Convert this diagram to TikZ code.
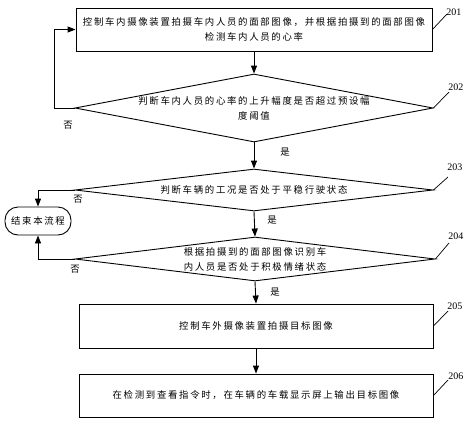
\documentclass[tikz,border=0pt]{standalone}
\usepackage{fontspec}
\setmainfont{Liberation Serif}
\newfontfamily\cjk[LetterSpace=18]{Noto Sans CJK SC}
\usetikzlibrary{shapes.geometric,arrows.meta}

\begin{document}
\begin{tikzpicture}[x=1pt,y=-1pt,line width=0.9pt,
		box/.style={draw,rectangle,inner sep=0pt,align=center,font={\cjk\fontsize{9.4}{15}\selectfont}},
		dia/.style={draw,diamond,inner sep=-4pt,align=center,font={\cjk\fontsize{9.4}{15}\selectfont}},
		term/.style={draw,rectangle,rounded corners=13pt,minimum width=66pt,minimum height=28pt,font={\cjk\fontsize{9.4}{11}\selectfont}},
		arr/.style={-{Triangle[length=8pt,width=6pt]}},
		yn/.style={font={\cjk\fontsize{9.4}{11}\selectfont},inner sep=0pt},
		num/.style={font={\fontsize{10}{12}\selectfont},inner sep=0pt,anchor=south west}]
		\useasboundingbox (0,0) rectangle (474,424);
		% steps
		\node[box,minimum width=356pt,minimum height=43pt] (b201) at (254,29.5) {控制车内摄像装置拍摄车内人员的面部图像，并根据拍摄到的面部图像\\检测车内人员的心率};
		\node[dia,aspect=5.26,minimum width=358pt,minimum height=68pt] (d202) at (254,108) {判断车内人员的心率的上升幅度是否超过预设幅\\度阈值};
		\node[dia,aspect=8.52,minimum width=358pt,minimum height=42pt] (d203) at (254,190) {判断车辆的工况是否处于平稳行驶状态};
		\node[dia,aspect=8.18,minimum width=360pt,minimum height=44pt] (d204) at (255,259) {根据拍摄到的面部图像识别车\\内人员是否处于积极情绪状态};
		\node[box,minimum width=354pt,minimum height=44pt] (b205) at (256,326) {控制车外摄像装置拍摄目标图像};
		\node[box,minimum width=354pt,minimum height=43pt] (b206) at (256,395.5) {在检测到查看指令时，在车辆的车载显示屏上输出目标图像};
		\node[term] (end) at (38,221) {结束本流程};
		% arrows
		\draw[arr] (b201.south) -- (d202.north);
		\draw[arr] (d202.south) -- (d203.north);
		\draw[arr] (d203.south) -- (d204.north);
		\draw[arr] (d204.south) -- (b205.north);
		\draw[arr] (b205.south) -- (b206.north);
		\draw[arr] (d202.west) -- ++(-20,0) |- (b201.west);
		\draw[arr] (d203.west) -| (end.north);
		\draw[arr] (d204.west) -| (end.south);
		\node[yn] (n202) at (68,125) {否};
		\node[yn] (y202) at (285,152) {是};
		\node[yn] (n203) at (78,199) {否};
		\node[yn] (y203) at (272,220) {是};
		\node[yn] (n204) at (75,269) {否};
		\node[yn] (y204) at (275,292) {是};
		% step numbers
		\coordinate (c201) at (447,14);
		\coordinate (c202) at (449,92);
		\coordinate (c203) at (448,177);
		\coordinate (c204) at (449,243);
		\coordinate (c205) at (448,311);
		\coordinate (c206) at (448,380);
		\draw[line width=0.7pt] (b201.east) -- (c201);
		\draw[line width=0.7pt] (d202.east) -- (c202);
		\draw[line width=0.7pt] (d203.east) -- (c203);
		\draw[line width=0.7pt] (d204.east) -- (c204);
		\draw[line width=0.7pt] (b205.east) -- (c205);
		\draw[line width=0.7pt] (b206.east) -- (c206);
		\node[num] (l201) at (446,16) {201};
		\node[num] (l202) at (448,91) {202};
		\node[num] (l203) at (447,171) {203};
		\node[num] (l204) at (448,240) {204};
		\node[num] (l205) at (447,310) {205};
		\node[num] (l206) at (448,380) {206};
	\end{tikzpicture}
\end{document}
